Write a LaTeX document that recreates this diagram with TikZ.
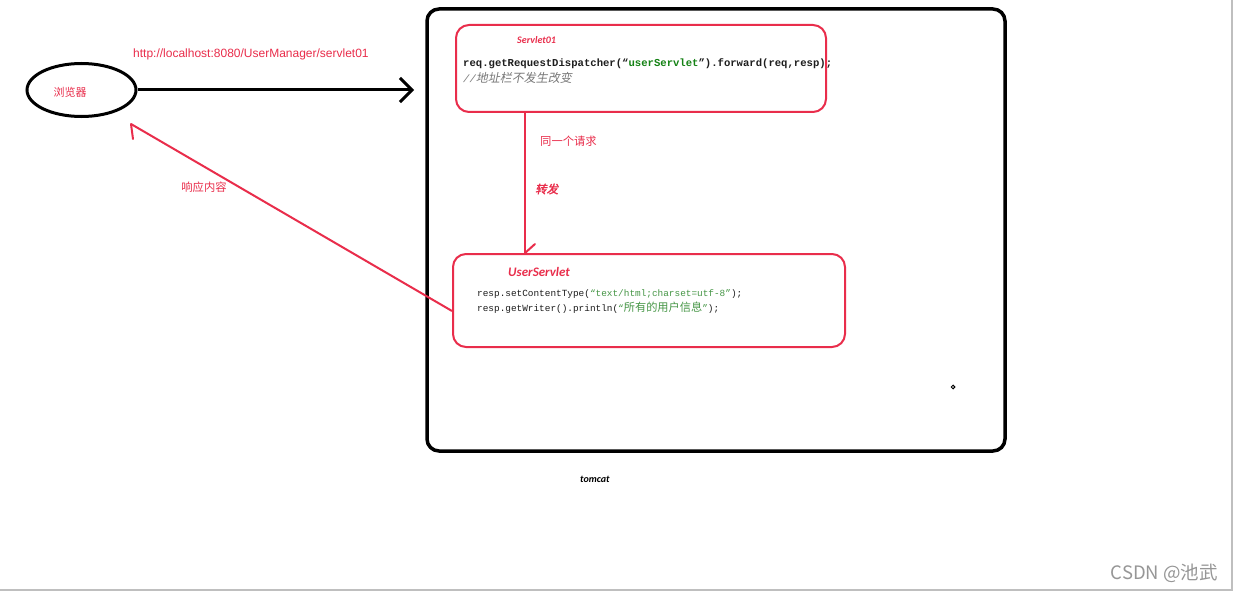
\documentclass[tikz,border=0pt]{standalone}
\usepackage{fontspec}
\setmainfont{Liberation Sans}
\setmonofont{Liberation Mono}
\newfontfamily\cjk{Noto Sans CJK SC}
\newfontfamily\cjkit[FakeSlant=0.2]{Noto Sans CJK SC}
\newfontfamily\cjkbi[FakeSlant=0.2,FakeBold=2]{Noto Sans CJK SC}
\newfontfamily\lbl{Carlito}
\usetikzlibrary{arrows.meta,shapes.geometric}
\definecolor{myred}{RGB}{233,45,75}
\definecolor{codegreen}{RGB}{20,130,20}
\definecolor{codegreen2}{RGB}{70,150,70}
\definecolor{cgray}{RGB}{120,120,120}
\definecolor{codeblack}{RGB}{30,30,30}
\definecolor{wmgray}{RGB}{150,150,150}
\tikzset{
  redbox/.style={draw=myred, line width=2pt, rounded corners=13pt, inner sep=0pt},
  redline/.style={draw=myred, line width=2pt},
  redtxt/.style={text=myred, inner sep=0pt},
  lbltxt/.style={inner sep=0pt, anchor=west, font=\lbl\bfseries\itshape},
  codetxt/.style={inner sep=0pt, anchor=west, text=codeblack}
}
\begin{document}
\begin{tikzpicture}[x=1pt,y=-1pt]
\useasboundingbox (0,0) rectangle (1233,591);
\fill[white] (0,0) rectangle (1233,591);
\draw[black!25, line width=1.2pt] (1232,0) -- (1232,590) -- (0,590);

% tomcat container
\node[draw=black, line width=3.5pt, rounded corners=12pt, minimum width=578pt, minimum height=442pt, inner sep=0pt] (tomcat) at (716,230) {};
\node[lbltxt, font=\lbl\bfseries\itshape\fontsize{10}{12}\selectfont] (tomcatlbl) at (580,479) {tomcat};

% browser
\node[draw=black, line width=3pt, ellipse, minimum width=109pt, minimum height=53pt, inner sep=0pt] (br) at (81.5,90) {};
\node[redtxt, font=\cjk\fontsize{11}{13}\selectfont] (brtxt) at (70,92) {浏览器};
\node[redtxt, anchor=west, font=\fontsize{12}{14}\selectfont] (url) at (133,54) {http://localhost:8080/UserManager/servlet01};
\coordinate (reqend) at (414,90);
\draw[line width=3pt, -{Straight Barb[length=12pt,width=24pt]}] (br.east) -- (reqend);

% Servlet01
\node[redbox, minimum width=370pt, minimum height=87pt] (s1) at (641,68.5) {};
\node[lbltxt, text=myred, font=\lbl\bfseries\itshape\fontsize{10}{12}\selectfont] (s1lbl) at (517,40) {Servlet01};
\node[codetxt, font=\ttfamily\bfseries\fontsize{10.6}{12}\selectfont] (s1code) at (463,64) {req.getRequestDispatcher(“\textcolor{codegreen}{userServlet}”).forward(req,resp);};
\node[codetxt, text=cgray, font=\ttfamily\itshape\fontsize{10.6}{12}\selectfont] (s1cmt) at (463,78) {//{\cjkit\fontsize{12}{14}\selectfont 地址栏不发生改变}};

% UserServlet
\node[redbox, minimum width=392pt, minimum height=93pt] (us) at (649,300.5) {};
\node[lbltxt, text=myred, font=\lbl\bfseries\itshape\fontsize{13}{15}\selectfont] (uslbl) at (508,272) {UserServlet};
\node[codetxt, font=\ttfamily\fontsize{9.4}{11}\selectfont] (uscode1) at (477,294) {resp.setContentType(\textcolor{codegreen2}{“text/html;charset=utf-8”});};
\node[codetxt, font=\ttfamily\fontsize{9.4}{11}\selectfont] (uscode2) at (477,308) {resp.getWriter().println(\textcolor{codegreen2}{“{\cjk\fontsize{11.2}{12}\selectfont 所有的用户信息}”});};

% forward
\coordinate (fwdx) at (525,0);
\draw[redline] (s1.south -| fwdx) -- (us.north -| fwdx);
\draw[redline, line cap=round] (us.north -| fwdx) -- ++(10,-9);
\node[redtxt, anchor=west, font=\cjk\fontsize{11.3}{13}\selectfont] (same) at (540,141) {同一个请求};
\node[redtxt, anchor=west, font=\cjkbi\fontsize{11.5}{13}\selectfont] (fwd) at (535,189) {转发};

% response
\coordinate (respy) at (0,311);
\coordinate (resptip) at (131,124);
\draw[redline] (us.west |- respy) -- (resptip);
\draw[redline, line cap=round] (resptip) -- ++(2,15);
\node[redtxt, font=\cjk\fontsize{11.3}{13}\selectfont] (resp) at (204,187) {响应内容};

% small mark
\draw[black, line width=1pt] (953,387) circle (1.8pt);

% watermark
\node[inner sep=0pt, anchor=east, text=wmgray, font=\cjk\fontsize{18.5}{20}\selectfont] (wm) at (1218,573) {CSDN @池武};
\end{tikzpicture}
\end{document}
